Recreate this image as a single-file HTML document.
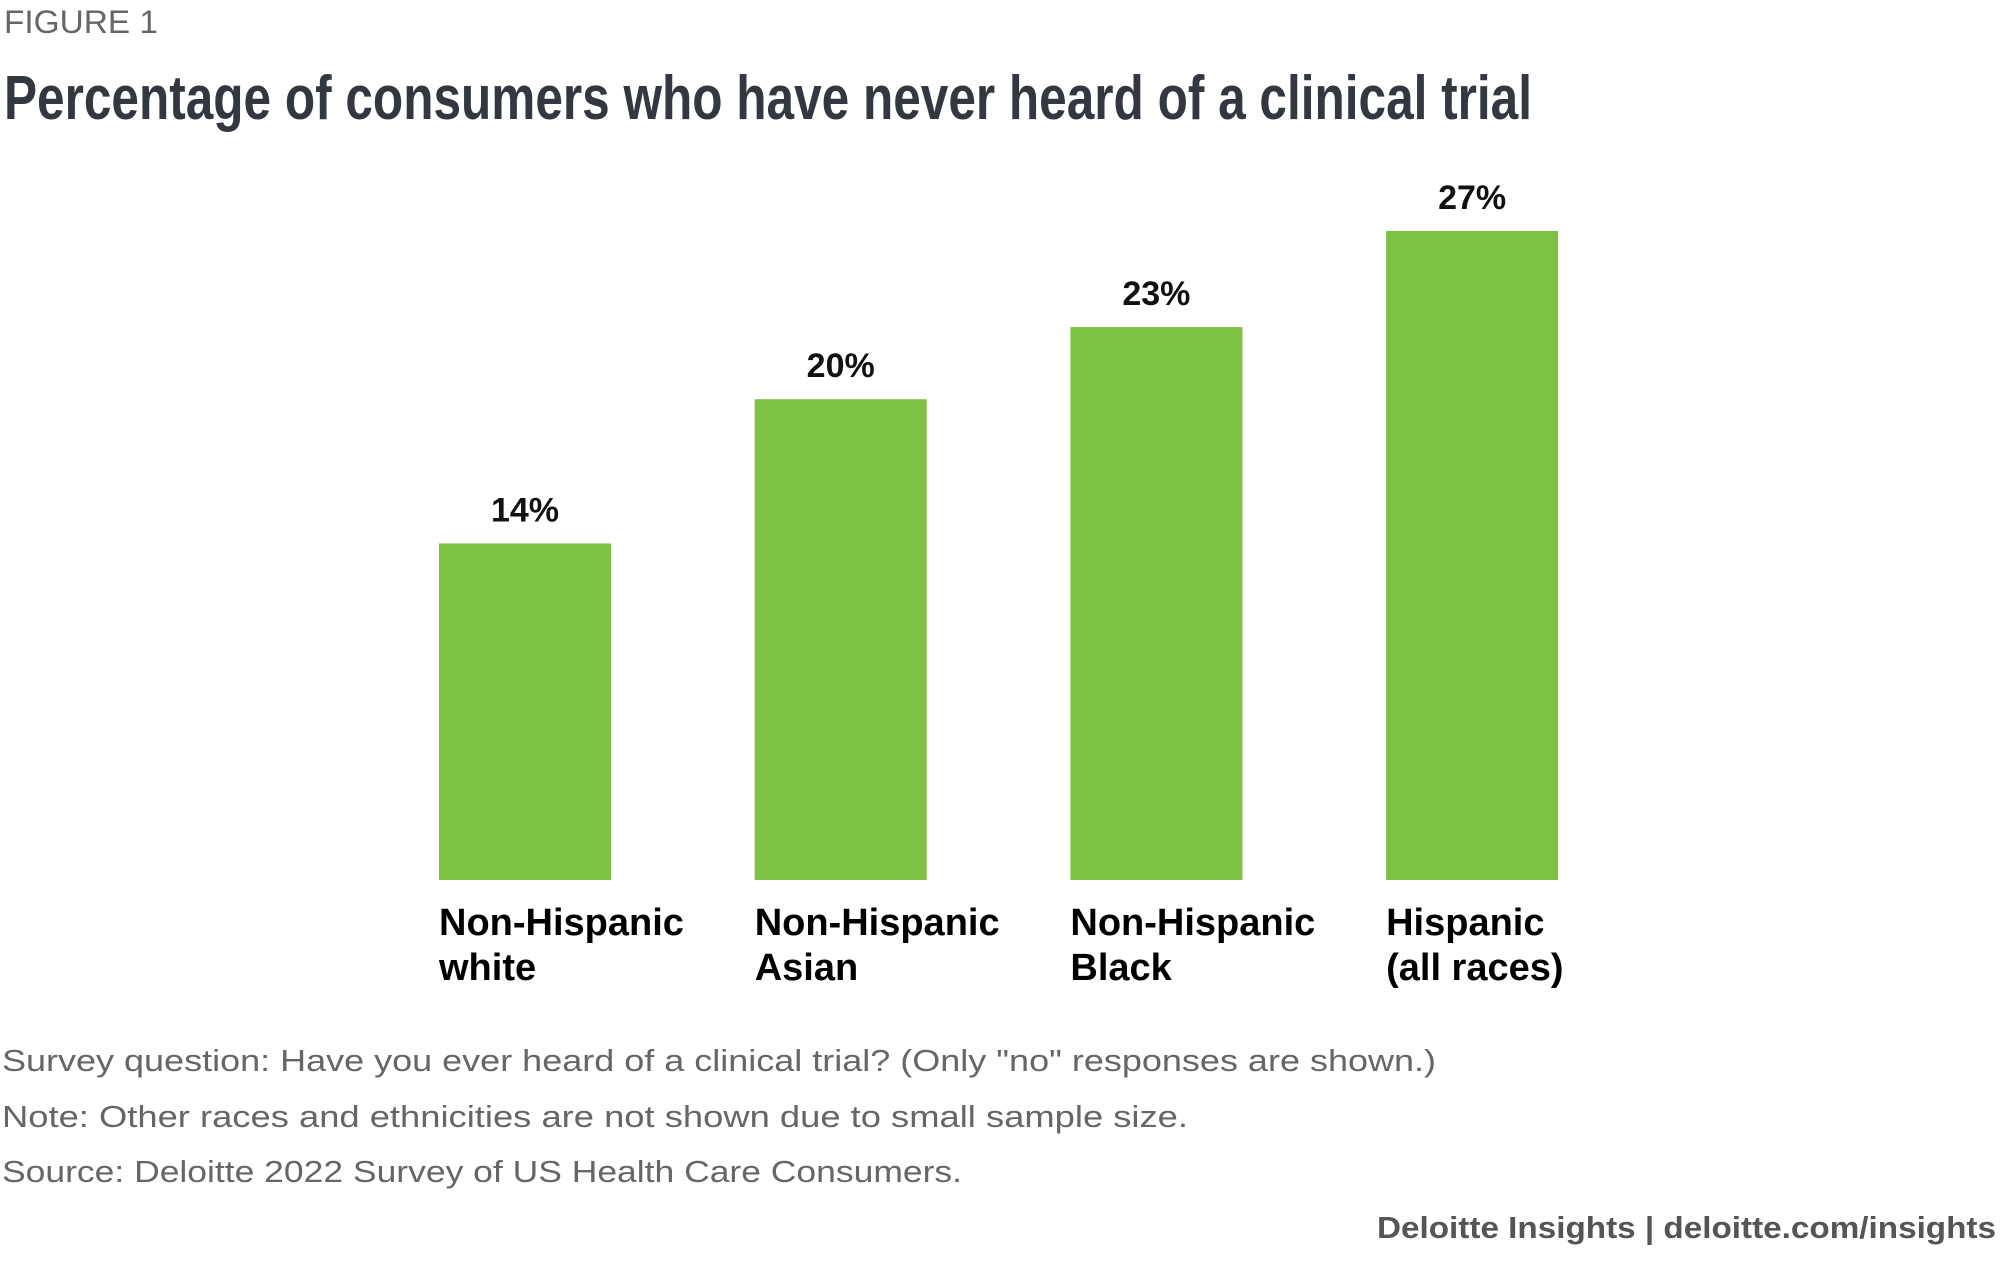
<!DOCTYPE html>
<html><head><meta charset="utf-8"><style>
html,body{margin:0;padding:0;background:#fff;}
svg{display:block;font-family:"Liberation Sans",sans-serif;}
</style></head><body>
<svg width="2000" height="1269" viewBox="0 0 2000 1269">
<text x="4" y="33" font-size="32" fill="#666" textLength="154" lengthAdjust="spacingAndGlyphs">FIGURE 1</text>
<text x="4" y="119" font-size="62" font-weight="bold" fill="#333740" textLength="1528" lengthAdjust="spacingAndGlyphs">Percentage of consumers who have never heard of a clinical trial</text>
<g id="bars"></g>
<text x="2" y="1071" font-size="31" fill="#666" textLength="1434" lengthAdjust="spacingAndGlyphs">Survey question: Have you ever heard of a clinical trial? (Only "no" responses are shown.)</text>
<text x="2" y="1127" font-size="31" fill="#666" textLength="1186" lengthAdjust="spacingAndGlyphs">Note: Other races and ethnicities are not shown due to small sample size.</text>
<text x="2" y="1182" font-size="31" fill="#666" textLength="960" lengthAdjust="spacingAndGlyphs">Source: Deloitte 2022 Survey of US Health Care Consumers.</text>
<text x="1996" y="1238" font-size="31" font-weight="bold" fill="#555" text-anchor="end" textLength="619" lengthAdjust="spacingAndGlyphs">Deloitte Insights | deloitte.com/insights</text>
</svg>
<script>
const categoriesLine1 = ["Non-Hispanic", "Non-Hispanic", "Non-Hispanic", "Hispanic"];
const categoriesLine2 = ["white", "Asian", "Black", "(all races)"];
const values = [14, 20, 23, 27];
const valueLabels = ["14%", "20%", "23%", "27%"];

const NS = "http://www.w3.org/2000/svg";
const g = document.getElementById("bars");
const baseY = 880, pxPer = 24.04, x0 = 439, step = 315.7, bw = 172;
function xScale(i){ return x0 + i*step; }
function yScale(v){ return baseY - v*pxPer; }
function mk(tag, attrs){ const e=document.createElementNS(NS,tag); for(const k in attrs) e.setAttribute(k,attrs[k]); return e; }
values.forEach((v,i)=>{
  const x = xScale(i), y = yScale(v);
  const r = mk("rect",{x:x,y:y,width:bw,height:baseY-y,fill:"#7DC242"});
  
  
  g.appendChild(r);
  const t = mk("text",{x:x+bw/2,y:y-22,"font-size":34,"font-weight":"bold","text-anchor":"middle",fill:"#111"});
  t.textContent = valueLabels[i];
  
  
  g.appendChild(t);
  const c1 = mk("text",{x:x,y:935,"font-size":38,"font-weight":"bold",fill:"#000"});
  c1.textContent = categoriesLine1[i];
  
  
  g.appendChild(c1);
  const c2 = mk("text",{x:x,y:980,"font-size":38,"font-weight":"bold",fill:"#000"});
  c2.textContent = categoriesLine2[i];
  
  
  g.appendChild(c2);
});
</script>
</body></html>
